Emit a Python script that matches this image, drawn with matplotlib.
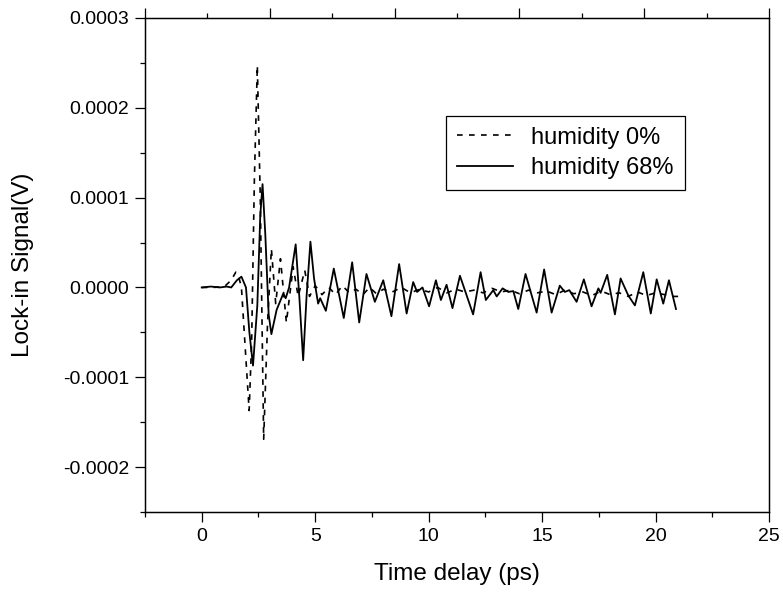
import matplotlib
matplotlib.use("Agg")
import matplotlib.pyplot as plt
from matplotlib.ticker import MultipleLocator, FormatStrFormatter

plt.rcParams['font.family'] = ['Liberation Sans', 'DejaVu Sans']
plt.rcParams['axes.unicode_minus'] = False

# humidity 68% (solid): time (ps), signal (1e-4 V)
t_68 = [0.0, 0.4, 0.8, 1.1, 1.3, 1.55, 1.75, 1.95, 2.1, 2.26, 2.45, 2.58, 2.68, 2.8,
        2.95, 3.07, 3.3, 3.59, 3.7, 3.85, 4.14, 4.3, 4.47, 4.62, 4.79, 4.95, 5.13,
        5.22, 5.47, 5.82, 6.26, 6.63, 6.94, 7.26, 7.63, 8.0, 8.36, 8.70, 9.03, 9.32,
        9.49, 9.73, 10.02, 10.32, 10.54, 10.79, 11.05, 11.38, 11.96, 12.29, 12.52,
        12.85, 13.0, 13.26, 13.51, 13.73, 13.95, 14.27, 14.76, 15.09, 15.42, 15.78,
        16.0, 16.2, 16.52, 16.84, 17.18, 17.48, 17.58, 17.87, 18.21, 18.46, 18.80,
        19.09, 19.46, 19.79, 20.05, 20.34, 20.59, 20.9]
v_68 = [0.0, 0.01, 0.0, 0.01, 0.0, 0.08, 0.12, 0.0, -0.5, -0.87, -0.2, 0.8, 1.15, 0.6,
        -0.3, -0.52, -0.25, -0.07, -0.12, 0.0, 0.48, -0.1, -0.81, -0.1, 0.51, 0.1, -0.18,
        -0.12, -0.26, 0.21, -0.34, 0.28, -0.39, 0.15, -0.16, 0.08, -0.32, 0.26, -0.29, 0.06,
        -0.05, 0.0, -0.21, 0.08, -0.14, 0.03, -0.23, 0.13, -0.30, 0.17, -0.14,
        -0.03, -0.10, -0.01, -0.05, -0.04, -0.24, 0.15, -0.28, 0.20, -0.28, 0.02,
        -0.05, -0.03, -0.16, 0.09, -0.21, -0.01, -0.06, 0.14, -0.30, 0.10, -0.09,
        -0.20, 0.17, -0.29, 0.09, -0.18, 0.08, -0.24]

# humidity 0% (dashed)
t_0 = [0.0, 0.5, 1.0, 1.3, 1.5, 1.6, 1.75, 2.09, 2.2, 2.32, 2.45, 2.58, 2.73, 2.9,
       3.07, 3.26, 3.47, 3.73, 4.03, 4.25, 4.54, 4.75, 5.0, 5.3, 5.6, 5.9, 6.2, 6.5,
       6.8, 7.1, 7.4, 7.7, 8.0, 8.4, 8.8, 9.2, 9.6, 10.0, 10.4, 10.8, 11.2, 11.6,
       12.0, 12.4, 12.8, 13.2, 13.6, 14.0, 14.4, 14.8, 15.2, 15.6, 16.0, 16.4, 16.8,
       17.2, 17.6, 18.0, 18.4, 18.8, 19.2, 19.6, 20.0, 20.4, 20.8, 21.0]
v_0 = [0.0, 0.0, 0.01, 0.08, 0.17, 0.15, 0.0, -1.37, -0.6, 1.2, 2.47, 1.0, -1.69, -0.4,
       0.43, -0.18, 0.32, -0.39, 0.23, -0.10, 0.19, -0.10, 0.02, -0.08, 0.0, -0.08, 0.02, -0.06,
       -0.02, -0.08, 0.0, -0.07, -0.02, -0.05, 0.0, -0.06, -0.02, -0.05, 0.0, -0.06, -0.02, -0.05,
       -0.03, -0.06, -0.01, -0.05, -0.03, -0.07, -0.03, -0.06, -0.04, -0.08, -0.03, -0.07, -0.05,
       -0.09, -0.04, -0.08, -0.06, -0.10, -0.05, -0.09, -0.06, -0.08, -0.10, -0.10]

fig = plt.figure(figsize=(7.83, 5.92), dpi=100)
ax = fig.add_axes([145 / 783, 1 - 512 / 592, (769 - 145) / 783, (512 - 18) / 592])

ax.plot(t_0, [v * 1e-4 for v in v_0], color='black', lw=1.2, ls=(0, (3.4, 3.8)),
        label='humidity 0%')
ax.plot(t_68, [v * 1e-4 for v in v_68], color='black', lw=1.3, label='humidity 68%')

ax.set_xlim(-2.5, 25)
ax.set_ylim(-0.00025, 0.0003)
ax.xaxis.set_major_locator(MultipleLocator(5))
ax.xaxis.set_minor_locator(MultipleLocator(2.5))
ax.yaxis.set_major_locator(MultipleLocator(0.0001))
ax.yaxis.set_minor_locator(MultipleLocator(0.00005))
ax.yaxis.set_major_formatter(FormatStrFormatter('%.4f'))
ax.tick_params(which='both', direction='out', right=False, top=False, width=0.9,
               labelsize=14)
ax.tick_params(which='major', length=7, pad=4.5)
ax.tick_params(which='minor', length=3.5)
for s in ax.spines.values():
    s.set_linewidth(1.0)

# top axis: independent ticks, no labels
top = ax.twiny()
top.set_xlim(0, 1)
top.xaxis.set_major_locator(MultipleLocator(0.2))
top.xaxis.set_minor_locator(MultipleLocator(0.1))
top.tick_params(which='both', direction='out', labeltop=False, width=0.9)
top.tick_params(which='major', length=7)
top.tick_params(which='minor', length=3.5)

ax.set_xlabel('Time delay (ps)', fontsize=17.5)
ax.set_ylabel('Lock-in Signal(V)', fontsize=17.5)
ax.xaxis.set_label_coords(0.5, -(563 - 512) / 494)
ax.yaxis.set_label_coords(-(145 - 34) / 624, 0.5)

leg = ax.legend(loc='upper left', bbox_to_anchor=(446 / 783, 1 - 116 / 592),
                bbox_transform=fig.transFigure, borderaxespad=0, fontsize=17,
                fancybox=False, edgecolor='black', framealpha=1,
                handlelength=2.37, handletextpad=0.8, borderpad=0.45, labelspacing=0.35)
leg.get_frame().set_linewidth(0.9)

fig.savefig('out.png', dpi=100)
